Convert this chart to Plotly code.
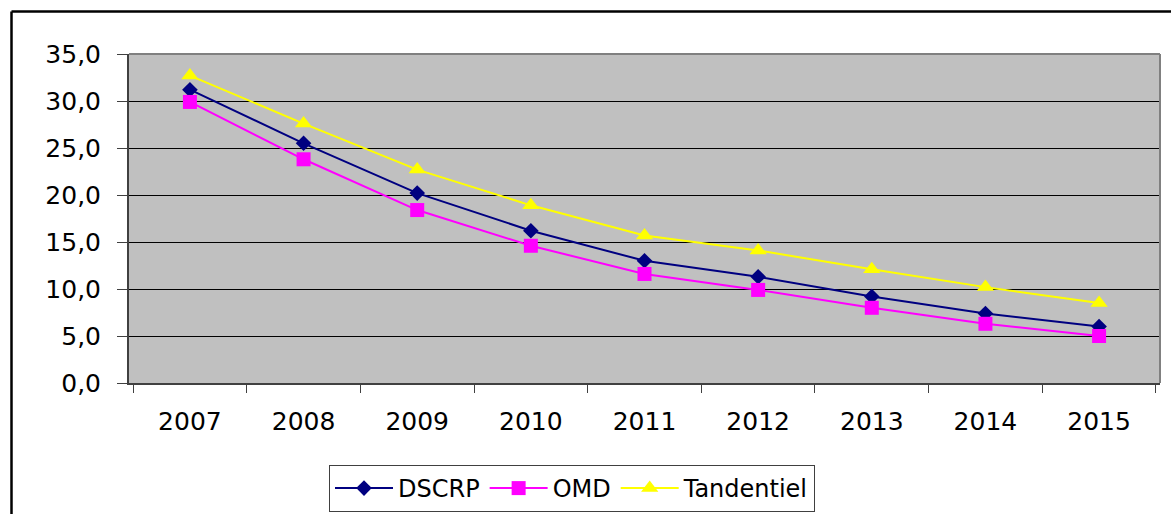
import plotly.graph_objects as go

years = ["2007", "2008", "2009", "2010", "2011", "2012", "2013", "2014", "2015"]
dscrp = [31.2, 25.5, 20.2, 16.2, 13.0, 11.3, 9.2, 7.4, 6.0]
omd = [29.9, 23.8, 18.4, 14.6, 11.6, 9.9, 8.0, 6.3, 5.0]
tandentiel = [32.7, 27.6, 22.7, 18.9, 15.7, 14.1, 12.1, 10.2, 8.5]

W, H = 1171, 514
L, R, T, B = 129, 1160, 54, 383
pw, ph = R - L, B - T

def px_x(x):
    return (x - L) / pw

def px_y(y):
    return (B - y) / ph

fig = go.Figure()
fig.add_trace(go.Scatter(x=years, y=dscrp, name="DSCRP", mode="lines+markers",
                         line=dict(color="#000080", width=2),
                         marker=dict(symbol="diamond", size=12, color="#000080")))
fig.add_trace(go.Scatter(x=years, y=omd, name="OMD", mode="lines+markers",
                         line=dict(color="#FF00FF", width=2),
                         marker=dict(symbol="square", size=14, color="#FF00FF")))
fig.add_trace(go.Scatter(x=years, y=tandentiel, name="Tandentiel", mode="lines+markers",
                         line=dict(color="#FFFF00", width=2),
                         marker=dict(symbol="triangle-up", size=15, color="#FFFF00")))

font = dict(family="DejaVu Sans, sans-serif", size=25, color="#000000")

fig.update_layout(
    width=W, height=H,
    margin=dict(l=L, r=W - R, t=T, b=H - B, pad=0, autoexpand=False),
    paper_bgcolor="#FFFFFF",
    plot_bgcolor="#C0C0C0",
    separators=", ",
    font=font,
    showlegend=True,
    legend=dict(orientation="h", x=px_x(329), xanchor="left", y=px_y(465), yanchor="top",
                bordercolor="#404040", borderwidth=1, bgcolor="#FFFFFF",
                font=dict(family="DejaVu Sans, sans-serif", size=24, color="#000000"),
                itemwidth=58, tracegroupgap=0),
    xaxis=dict(type="category", tickson="boundaries", showgrid=False,
               showline=True, linecolor="#404040", linewidth=2,
               ticks="outside", ticklen=8, tickcolor="#404040", tickwidth=1,
               ticklabelstandoff=15, zeroline=False, fixedrange=True),
    yaxis=dict(range=[0, 35], dtick=5, tickformat=".1f", showgrid=True,
               gridcolor="#000000", gridwidth=1,
               showline=True, linecolor="#404040", linewidth=2,
               ticks="outside", ticklen=10, tickcolor="#404040", tickwidth=1,
               ticklabelstandoff=11, zeroline=False, fixedrange=True),
    shapes=[
        dict(type="line", xref="paper", yref="paper", x0=0, x1=1, y0=1, y1=1,
             line=dict(color="#808080", width=2)),
        dict(type="line", xref="paper", yref="paper", x0=1, x1=1, y0=0, y1=1,
             line=dict(color="#808080", width=2)),
        dict(type="line", xref="paper", yref="paper", x0=px_x(11.5), x1=px_x(1180),
             y0=px_y(11.5), y1=px_y(11.5), line=dict(color="#000000", width=2.5)),
        dict(type="line", xref="paper", yref="paper", x0=px_x(11.5), x1=px_x(11.5),
             y0=px_y(11.5), y1=px_y(530), line=dict(color="#000000", width=2.5)),
    ],
)

fig.write_html("out.html", config={"displayModeBar": False},
               post_script="document.body.style.margin='0';document.body.style.overflow='hidden';")
